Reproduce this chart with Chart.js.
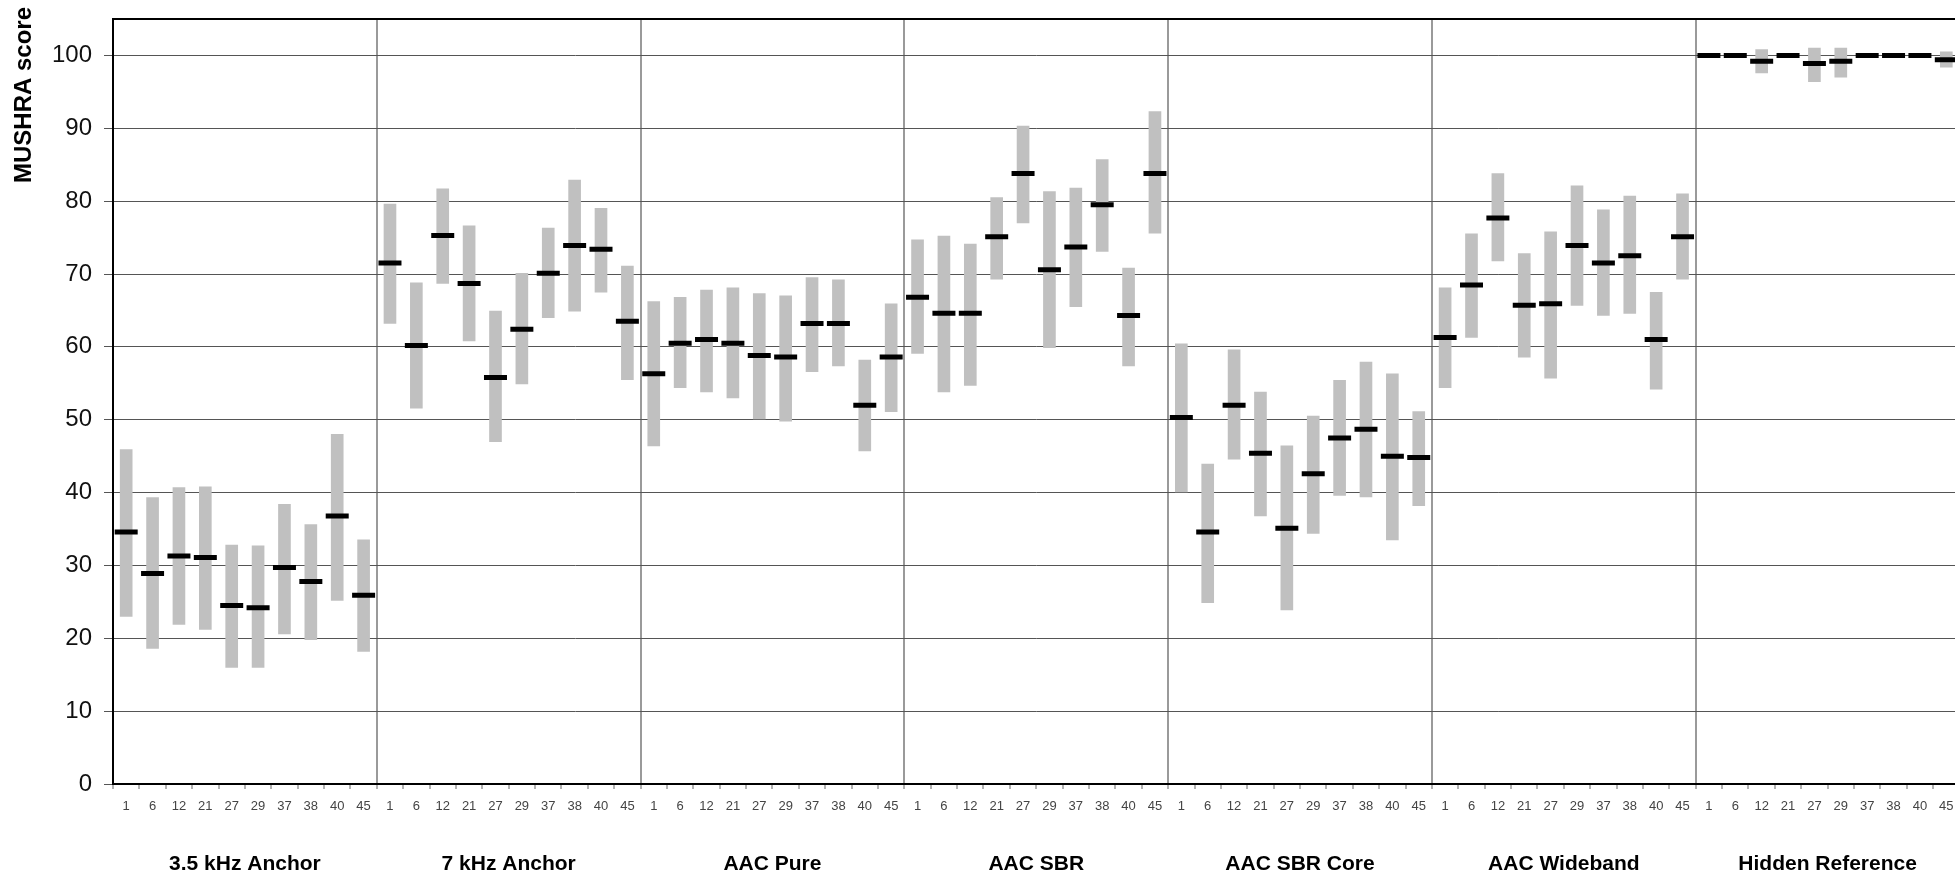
<!DOCTYPE html>
<html>
<head>
<meta charset="utf-8">
<script src="https://cdn.jsdelivr.net/npm/chart.js@4.4.1/dist/chart.umd.min.js"></script>
<style>
  html, body { margin: 0; padding: 0; background: #fff; overflow: hidden; width: 1955px; height: 876px; }
  /* slightly wider than the page so the plot runs off the right edge like the original */
  #wrap { width: 1976px; height: 876px; }
</style>
</head>
<body>
<div id="wrap"><canvas id="mushraChart"></canvas></div>
<script>
// Conditions (groups) and test items inside each group
const groups = ['3.5 kHz Anchor', '7 kHz Anchor', 'AAC Pure', 'AAC SBR', 'AAC SBR Core', 'AAC Wideband', 'Hidden Reference']
const items = ['1', '6', '12', '21', '27', '29', '37', '38', '40', '45']

// Mean MUSHRA score per item, one line per group
const meanScores = [
  34.6, 28.9, 31.3, 31.1, 24.5, 24.2, 29.7, 27.8, 36.8, 25.9,
  71.5, 60.2, 75.3, 68.7, 55.8, 62.4, 70.1, 73.9, 73.4, 63.5,
  56.3, 60.5, 61.0, 60.5, 58.8, 58.6, 63.2, 63.2, 52.0, 58.6,
  66.8, 64.6, 64.6, 75.1, 83.8, 70.6, 73.7, 79.5, 64.3, 83.8,
  50.3, 34.6, 52.0, 45.4, 35.1, 42.6, 47.5, 48.7, 45.0, 44.8,
  61.3, 68.5, 77.7, 65.7, 65.9, 73.9, 71.5, 72.5, 61.0, 75.1,
  100, 100, 99.2, 100, 98.9, 99.2, 100, 100, 100, 99.4
]

// Lower end of the confidence interval
const lowerBounds = [
  23.0, 18.6, 21.9, 21.2, 16.0, 16.0, 20.6, 19.8, 25.2, 18.2,
  63.2, 51.6, 68.7, 60.8, 47.0, 54.9, 64.0, 64.9, 67.5, 55.5,
  46.4, 54.4, 53.8, 53.0, 50.1, 49.8, 56.6, 57.4, 45.7, 51.1,
  59.1, 53.8, 54.7, 69.3, 77.0, 59.9, 65.5, 73.1, 57.4, 75.6,
  40.1, 24.9, 44.6, 36.8, 23.9, 34.4, 39.6, 39.4, 33.5, 38.2,
  54.4, 61.3, 71.8, 58.6, 55.7, 65.7, 64.3, 64.6, 54.2, 69.3,
  100, 100, 97.6, 100, 96.4, 97.0, 100, 100, 100, 98.4
]

// Upper end of the confidence interval
const upperBounds = [
  45.9, 39.3, 40.7, 40.8, 32.8, 32.7, 38.4, 35.6, 48.0, 33.5,
  79.6, 68.8, 81.7, 76.6, 64.9, 70.1, 76.3, 82.9, 79.0, 71.1,
  66.2, 66.8, 67.8, 68.1, 67.3, 67.0, 69.5, 69.2, 58.2, 65.9,
  74.7, 75.2, 74.1, 80.5, 90.3, 81.3, 81.8, 85.7, 70.8, 92.3,
  60.4, 43.9, 59.6, 53.8, 46.4, 50.5, 55.4, 57.9, 56.3, 51.1,
  68.1, 75.5, 83.8, 72.8, 75.8, 82.1, 78.8, 80.7, 67.5, 81.0,
  100, 100, 100.8, 100, 101.0, 101.0, 100, 100, 100, 100.5
]

const yTicks = [0, 10, 20, 30, 40, 50, 60, 70, 80, 90, 100]
const yTop = 105

// build the flat category list: items repeated for every group
const labels = groups.flatMap(() => items)
const intervals = lowerBounds.map((lo, i) => [lo, upperBounds[i]])

// draws the rotated axis title and the group names under the item numbers
const extraText = {
  id: 'extraText',
  afterDraw(chart) {
    const ctx = chart.ctx
    const x = chart.scales.x
    ctx.save()
    ctx.fillStyle = '#000'
    ctx.textAlign = 'center'
    ctx.textBaseline = 'middle'

    ctx.font = 'bold 21px "Liberation Sans", Arial, sans-serif'
    groups.forEach((name, g) => {
      const cx = (x.getPixelForValue(g * items.length) + x.getPixelForValue(g * items.length + items.length - 1)) / 2
      ctx.fillText(name, cx, 864)
    })

    ctx.translate(24, 95)
    ctx.rotate(-Math.PI / 2)
    ctx.font = 'bold 24px "Liberation Sans", Arial, sans-serif'
    ctx.fillText('MUSHRA score', 0, 0)
    ctx.restore()
  }
}

const chart = new Chart(document.querySelector('#mushraChart'), {
  type: 'bar',
  data: {
    labels: labels,
    datasets: [
      {
        type: 'line',
        label: 'Mean',
        data: meanScores,
        showLine: false,
        pointStyle: 'line',
        pointRadius: 11.5,
        pointHoverRadius: 11.5,
        borderWidth: 5,
        borderColor: '#000',
        backgroundColor: '#000'
      },
      {
        label: 'Confidence interval',
        data: intervals,
        backgroundColor: '#c0c0c0',
        borderWidth: 0,
        barThickness: 12
      }
    ]
  },
  options: {
    responsive: true,
    maintainAspectRatio: false,
    animation: false,
    layout: { padding: { left: 0, top: 19, right: 0, bottom: 0 } },
    plugins: {
      legend: { display: false },
      tooltip: { enabled: false }
    },
    scales: {
      x: {
        type: 'category',
        offset: true,
        grid: {
          offset: true,
          color: (c) => (c.index > 0 && c.index < labels.length && c.index % items.length === 0) ? '#9a9a9a' : 'transparent',
          lineWidth: 2,
          tickColor: '#666',
          tickWidth: 1,
          tickLength: 5
        },
        border: { display: true, color: '#000', width: 2 },
        ticks: {
          autoSkip: false,
          maxRotation: 0,
          padding: 10,
          color: '#444',
          font: { family: '"Liberation Sans", Arial, sans-serif', size: 13 }
        },
        afterFit(scale) {
          scale.height = 92
          scale.paddingLeft = 0
          scale.paddingRight = 0
        }
      },
      y: {
        min: 0,
        max: yTop,
        afterBuildTicks(scale) {
          scale.ticks = yTicks.concat([yTop]).map(v => ({ value: v }))
        },
        grid: {
          color: (c) => c.tick && c.tick.value === yTop ? '#000' : '#555',
          lineWidth: (c) => c.tick && c.tick.value === yTop ? 2 : 1,
          tickColor: (c) => c.tick && c.tick.value === yTop ? 'transparent' : '#555',
          tickWidth: 1,
          tickLength: 9
        },
        border: { display: true, color: '#000', width: 2 },
        ticks: {
          padding: 12,
          color: '#111',
          font: { family: '"Liberation Sans", Arial, sans-serif', size: 24 },
          callback: (v) => v === yTop ? '' : v
        },
        afterFit(scale) {
          scale.width = 113
          scale.paddingTop = 0
          scale.paddingBottom = 0
        }
      }
    }
  },
  plugins: [extraText]
})
</script>
</body>
</html>
